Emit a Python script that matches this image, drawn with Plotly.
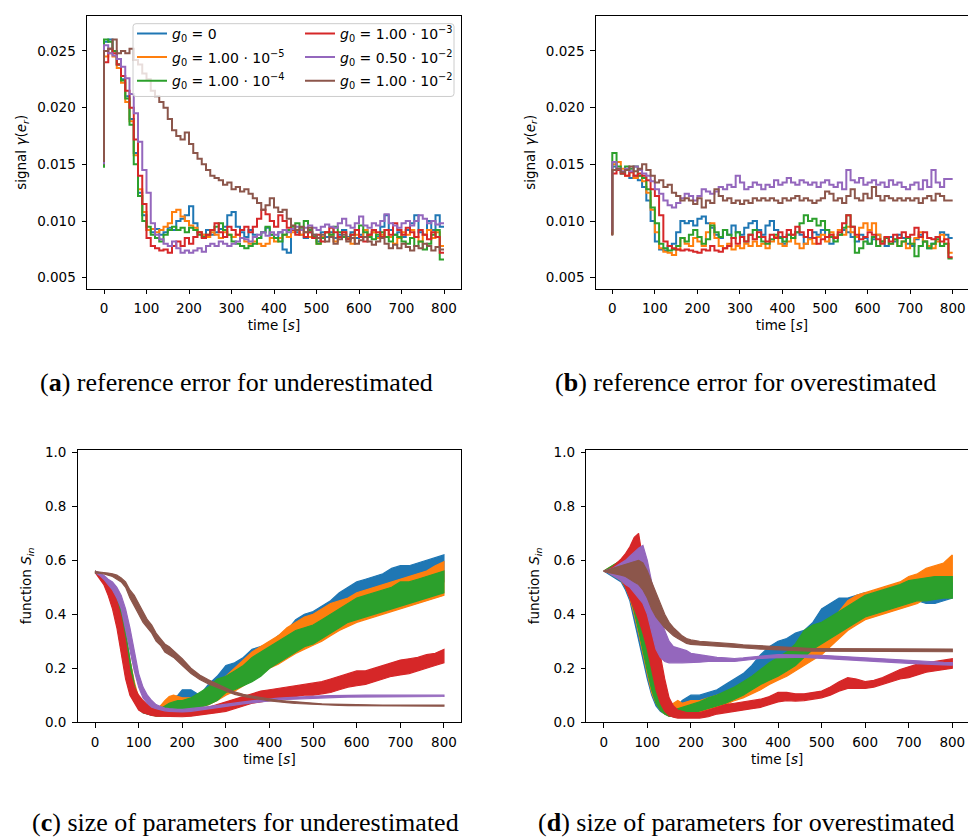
import plotly.graph_objects as go

# ---------------- data ----------------
LABELS = ["<i>g</i><sub>0</sub> = 0",
          "<i>g</i><sub>0</sub> = 1.00 · 10<sup>−5</sup>",
          "<i>g</i><sub>0</sub> = 1.00 · 10<sup>−4</sup>",
          "<i>g</i><sub>0</sub> = 1.00 · 10<sup>−3</sup>",
          "<i>g</i><sub>0</sub> = 0.50 · 10<sup>−2</sup>",
          "<i>g</i><sub>0</sub> = 1.00 · 10<sup>−2</sup>"]
COLORS = ["#1f77b4", "#ff7f0e", "#2ca02c", "#d62728", "#9467bd", "#8c564b"]

T_TOP = list(range(0, 801, 10))
T_BOT = list(range(0, 201, 10)) + list(range(220, 801, 20))

# (a) reference error, underestimated
A_BLUE = [0.0150,
    0.0258, 0.0260, 0.0250, 0.0238, 0.0225, 0.0210, 0.0190, 0.0160, 0.0125, 0.0105,
    0.0092, 0.0090, 0.0093, 0.0088, 0.0090, 0.0094, 0.0092, 0.0100, 0.0102, 0.0105,
    0.0113, 0.0098, 0.0090, 0.0088, 0.0092, 0.0088, 0.0090, 0.0093, 0.0095, 0.0105,
    0.0108, 0.0095, 0.0090, 0.0086, 0.0092, 0.0088, 0.0085, 0.0090, 0.0094, 0.0088,
    0.0085, 0.0090, 0.0075, 0.0072, 0.0092, 0.0090, 0.0088, 0.0085, 0.0090, 0.0088,
    0.0082, 0.0090, 0.0086, 0.0090, 0.0085, 0.0088, 0.0092, 0.0086, 0.0090, 0.0085,
    0.0088, 0.0092, 0.0088, 0.0090, 0.0086, 0.0095, 0.0105, 0.0092, 0.0088, 0.0090,
    0.0086, 0.0092, 0.0098, 0.0105, 0.0090, 0.0088, 0.0100, 0.0092, 0.0105, 0.0095]
A_ORANGE = [0.0150,
    0.0245, 0.0248, 0.0245, 0.0235, 0.0222, 0.0205, 0.0188, 0.0158, 0.0128, 0.0108,
    0.0092, 0.0093, 0.0090, 0.0092, 0.0095, 0.0098, 0.0108, 0.0110, 0.0104, 0.0100,
    0.0096, 0.0094, 0.0090, 0.0088, 0.0086, 0.0090, 0.0088, 0.0085, 0.0090, 0.0088,
    0.0086, 0.0088, 0.0085, 0.0082, 0.0080, 0.0082, 0.0080, 0.0078, 0.0080, 0.0085,
    0.0082, 0.0085, 0.0088, 0.0086, 0.0090, 0.0092, 0.0088, 0.0090, 0.0086, 0.0085,
    0.0080, 0.0086, 0.0090, 0.0088, 0.0082, 0.0086, 0.0090, 0.0085, 0.0080, 0.0088,
    0.0086, 0.0092, 0.0088, 0.0090, 0.0085, 0.0088, 0.0092, 0.0086, 0.0080, 0.0085,
    0.0090, 0.0088, 0.0092, 0.0086, 0.0082, 0.0088, 0.0092, 0.0085, 0.0090, 0.0078]
A_GREEN = [0.0147,
    0.0260, 0.0258, 0.0250, 0.0238, 0.0224, 0.0208, 0.0185, 0.0150, 0.0122, 0.0100,
    0.0095, 0.0088, 0.0085, 0.0082, 0.0088, 0.0092, 0.0095, 0.0092, 0.0094, 0.0090,
    0.0094, 0.0092, 0.0088, 0.0086, 0.0088, 0.0092, 0.0095, 0.0098, 0.0092, 0.0088,
    0.0082, 0.0080, 0.0078, 0.0076, 0.0078, 0.0080, 0.0085, 0.0090, 0.0095, 0.0088,
    0.0085, 0.0082, 0.0088, 0.0092, 0.0095, 0.0098, 0.0094, 0.0100, 0.0092, 0.0086,
    0.0080, 0.0085, 0.0090, 0.0088, 0.0095, 0.0090, 0.0086, 0.0084, 0.0088, 0.0092,
    0.0096, 0.0090, 0.0086, 0.0084, 0.0088, 0.0090, 0.0086, 0.0082, 0.0088, 0.0086,
    0.0082, 0.0080, 0.0085, 0.0078, 0.0082, 0.0075, 0.0080, 0.0088, 0.0092, 0.0066]
A_RED = [0.0150,
    0.0240, 0.0252, 0.0248, 0.0238, 0.0228, 0.0215, 0.0200, 0.0172, 0.0140, 0.0115,
    0.0085, 0.0078, 0.0076, 0.0074, 0.0075, 0.0072, 0.0078, 0.0082, 0.0078, 0.0085,
    0.0080, 0.0086, 0.0090, 0.0085, 0.0088, 0.0092, 0.0098, 0.0090, 0.0086, 0.0095,
    0.0092, 0.0088, 0.0092, 0.0095, 0.0090, 0.0095, 0.0102, 0.0110, 0.0106, 0.0100,
    0.0095, 0.0105, 0.0100, 0.0094, 0.0092, 0.0088, 0.0092, 0.0086, 0.0090, 0.0085,
    0.0088, 0.0082, 0.0090, 0.0094, 0.0090, 0.0086, 0.0090, 0.0084, 0.0088, 0.0092,
    0.0086, 0.0082, 0.0088, 0.0092, 0.0090, 0.0086, 0.0092, 0.0088, 0.0098, 0.0092,
    0.0088, 0.0094, 0.0090, 0.0086, 0.0092, 0.0088, 0.0084, 0.0090, 0.0086, 0.0072]
A_PURPLE = [0.0150,
    0.0255, 0.0248, 0.0246, 0.0243, 0.0236, 0.0226, 0.0212, 0.0195, 0.0170, 0.0145,
    0.0125, 0.0098, 0.0088, 0.0084, 0.0080, 0.0078, 0.0082, 0.0076, 0.0072, 0.0074,
    0.0072, 0.0074, 0.0076, 0.0073, 0.0078, 0.0080, 0.0078, 0.0082, 0.0080, 0.0078,
    0.0080, 0.0082, 0.0085, 0.0084, 0.0082, 0.0086, 0.0088, 0.0090, 0.0087, 0.0090,
    0.0088, 0.0090, 0.0092, 0.0090, 0.0093, 0.0095, 0.0092, 0.0094, 0.0096, 0.0094,
    0.0092, 0.0095, 0.0097, 0.0095, 0.0094, 0.0098, 0.0102, 0.0096, 0.0094, 0.0098,
    0.0104, 0.0096, 0.0094, 0.0098, 0.0096, 0.0100, 0.0106, 0.0098, 0.0096, 0.0094,
    0.0098, 0.0100, 0.0096, 0.0100, 0.0105, 0.0102, 0.0098, 0.0100, 0.0097, 0.0098]
A_BROWN = [0.0152,
    0.0250, 0.0252, 0.0260, 0.0248, 0.0250, 0.0248, 0.0252, 0.0242, 0.0238, 0.0230,
    0.0225, 0.0215, 0.0210, 0.0205, 0.0200, 0.0190, 0.0180, 0.0175, 0.0172, 0.0178,
    0.0168, 0.0160, 0.0155, 0.0150, 0.0145, 0.0140, 0.0138, 0.0136, 0.0132, 0.0134,
    0.0128, 0.0130, 0.0126, 0.0128, 0.0124, 0.0120, 0.0116, 0.0110, 0.0114, 0.0120,
    0.0112, 0.0108, 0.0110, 0.0102, 0.0096, 0.0092, 0.0095, 0.0090, 0.0094, 0.0088,
    0.0085, 0.0088, 0.0082, 0.0086, 0.0080, 0.0084, 0.0088, 0.0082, 0.0085, 0.0080,
    0.0083, 0.0086, 0.0082, 0.0079, 0.0082, 0.0085, 0.0080, 0.0076, 0.0079, 0.0076,
    0.0080, 0.0077, 0.0074, 0.0078, 0.0076, 0.0080, 0.0078, 0.0074, 0.0077, 0.0075]

# (b) reference error, overestimated
B_BLUE = [0.0088,
    0.0148, 0.0145, 0.0142, 0.0145, 0.0138, 0.0140, 0.0136, 0.0130, 0.0118, 0.0100,
    0.0082, 0.0075, 0.0074, 0.0078, 0.0080, 0.0090, 0.0100, 0.0098, 0.0100, 0.0096,
    0.0102, 0.0104, 0.0098, 0.0094, 0.0088, 0.0085, 0.0092, 0.0088, 0.0096, 0.0090,
    0.0088, 0.0094, 0.0098, 0.0100, 0.0092, 0.0088, 0.0096, 0.0100, 0.0092, 0.0086,
    0.0080, 0.0088, 0.0085, 0.0090, 0.0088, 0.0080, 0.0085, 0.0090, 0.0088, 0.0092,
    0.0086, 0.0080, 0.0085, 0.0088, 0.0092, 0.0090, 0.0086, 0.0082, 0.0088, 0.0085,
    0.0080, 0.0084, 0.0088, 0.0082, 0.0078, 0.0086, 0.0082, 0.0088, 0.0085, 0.0080,
    0.0078, 0.0084, 0.0088, 0.0082, 0.0076, 0.0080, 0.0086, 0.0090, 0.0088, 0.0085]
B_ORANGE = [0.0088,
    0.0150, 0.0152, 0.0146, 0.0140, 0.0143, 0.0138, 0.0140, 0.0135, 0.0125, 0.0110,
    0.0090, 0.0076, 0.0073, 0.0072, 0.0070, 0.0075, 0.0085, 0.0080, 0.0078, 0.0085,
    0.0082, 0.0078, 0.0090, 0.0098, 0.0085, 0.0078, 0.0076, 0.0080, 0.0075, 0.0078,
    0.0076, 0.0080, 0.0078, 0.0082, 0.0078, 0.0080, 0.0076, 0.0082, 0.0086, 0.0080,
    0.0078, 0.0082, 0.0088, 0.0080, 0.0076, 0.0080, 0.0084, 0.0080, 0.0086, 0.0088,
    0.0082, 0.0090, 0.0086, 0.0092, 0.0088, 0.0095, 0.0090, 0.0086, 0.0094, 0.0098,
    0.0092, 0.0098, 0.0088, 0.0082, 0.0086, 0.0080, 0.0084, 0.0078, 0.0082, 0.0076,
    0.0080, 0.0085, 0.0090, 0.0082, 0.0078, 0.0076, 0.0082, 0.0088, 0.0080, 0.0072]
B_GREEN = [0.0088,
    0.0160, 0.0148, 0.0142, 0.0148, 0.0146, 0.0148, 0.0140, 0.0138, 0.0128, 0.0112,
    0.0098, 0.0080, 0.0076, 0.0074, 0.0075, 0.0078, 0.0085, 0.0082, 0.0088, 0.0092,
    0.0086, 0.0080, 0.0084, 0.0096, 0.0090, 0.0086, 0.0092, 0.0088, 0.0085, 0.0090,
    0.0086, 0.0082, 0.0088, 0.0092, 0.0086, 0.0082, 0.0080, 0.0084, 0.0088, 0.0085,
    0.0082, 0.0088, 0.0085, 0.0090, 0.0098, 0.0105, 0.0100, 0.0102, 0.0096, 0.0100,
    0.0092, 0.0086, 0.0082, 0.0088, 0.0094, 0.0105, 0.0095, 0.0072, 0.0076, 0.0082,
    0.0080, 0.0086, 0.0078, 0.0082, 0.0085, 0.0080, 0.0084, 0.0078, 0.0082, 0.0085,
    0.0080, 0.0069, 0.0078, 0.0082, 0.0076, 0.0080, 0.0084, 0.0078, 0.0080, 0.0067]
B_RED = [0.0088,
    0.0142, 0.0145, 0.0142, 0.0140, 0.0143, 0.0140, 0.0142, 0.0140, 0.0136, 0.0128,
    0.0122, 0.0105, 0.0082, 0.0078, 0.0076, 0.0075, 0.0074, 0.0075, 0.0074, 0.0073,
    0.0072, 0.0075, 0.0074, 0.0078, 0.0074, 0.0073, 0.0076, 0.0078, 0.0085, 0.0080,
    0.0086, 0.0082, 0.0088, 0.0084, 0.0090, 0.0086, 0.0082, 0.0088, 0.0085, 0.0090,
    0.0086, 0.0092, 0.0088, 0.0095, 0.0090, 0.0086, 0.0092, 0.0085, 0.0080, 0.0084,
    0.0086, 0.0088, 0.0085, 0.0090, 0.0098, 0.0105, 0.0095, 0.0088, 0.0084, 0.0086,
    0.0090, 0.0088, 0.0084, 0.0080, 0.0086, 0.0082, 0.0088, 0.0085, 0.0090, 0.0086,
    0.0088, 0.0094, 0.0086, 0.0090, 0.0085, 0.0084, 0.0086, 0.0082, 0.0084, 0.0068]
B_PURPLE = [0.0090,
    0.0152, 0.0146, 0.0144, 0.0146, 0.0144, 0.0148, 0.0145, 0.0142, 0.0140, 0.0135,
    0.0128, 0.0124, 0.0118, 0.0114, 0.0112, 0.0116, 0.0120, 0.0124, 0.0122, 0.0118,
    0.0122, 0.0128, 0.0126, 0.0124, 0.0126, 0.0130, 0.0128, 0.0132, 0.0130, 0.0140,
    0.0134, 0.0128, 0.0130, 0.0134, 0.0132, 0.0128, 0.0132, 0.0130, 0.0136, 0.0132,
    0.0134, 0.0138, 0.0134, 0.0132, 0.0136, 0.0134, 0.0132, 0.0134, 0.0130, 0.0134,
    0.0136, 0.0132, 0.0130, 0.0134, 0.0128, 0.0145, 0.0136, 0.0134, 0.0138, 0.0132,
    0.0134, 0.0136, 0.0132, 0.0134, 0.0130, 0.0136, 0.0132, 0.0134, 0.0130, 0.0128,
    0.0132, 0.0134, 0.0128, 0.0136, 0.0130, 0.0145, 0.0134, 0.0130, 0.0137, 0.0137]
B_BROWN = [0.0087,
    0.0145, 0.0146, 0.0143, 0.0145, 0.0148, 0.0144, 0.0146, 0.0150, 0.0145, 0.0140,
    0.0134, 0.0136, 0.0130, 0.0132, 0.0125, 0.0122, 0.0118, 0.0120, 0.0118, 0.0115,
    0.0120, 0.0112, 0.0118, 0.0116, 0.0128, 0.0122, 0.0118, 0.0120, 0.0116, 0.0118,
    0.0115, 0.0118, 0.0116, 0.0120, 0.0118, 0.0120, 0.0118, 0.0120, 0.0118, 0.0116,
    0.0120, 0.0118, 0.0120, 0.0122, 0.0118, 0.0120, 0.0118, 0.0116, 0.0118, 0.0120,
    0.0126, 0.0124, 0.0118, 0.0120, 0.0116, 0.0122, 0.0128, 0.0120, 0.0118, 0.0124,
    0.0120, 0.0130, 0.0122, 0.0118, 0.0122, 0.0120, 0.0118, 0.0120, 0.0118, 0.0120,
    0.0118, 0.0120, 0.0116, 0.0120, 0.0122, 0.0118, 0.0124, 0.0122, 0.0118, 0.0118]

# (c) size of parameters, underestimated: lower / upper envelope of the oscillating signal
C_BLUE_LO = [0.555, 0.54, 0.52, 0.49, 0.45, 0.40, 0.32, 0.22, 0.14, 0.08, 0.05,
    0.035, 0.03, 0.025, 0.025, 0.03, 0.04, 0.05, 0.06, 0.065, 0.07,
    0.06, 0.07, 0.08, 0.10, 0.12, 0.14, 0.16, 0.18, 0.20, 0.22,
    0.24, 0.26, 0.28, 0.30, 0.32, 0.34, 0.36, 0.38, 0.40, 0.41,
    0.42, 0.43, 0.44, 0.45, 0.46, 0.47, 0.48, 0.49, 0.50, 0.52]
C_BLUE_HI = [0.56, 0.55, 0.54, 0.52, 0.49, 0.46, 0.41, 0.33, 0.23, 0.14, 0.085,
    0.06, 0.05, 0.045, 0.05, 0.06, 0.07, 0.08, 0.09, 0.10, 0.12,
    0.12, 0.10, 0.14, 0.17, 0.21, 0.22, 0.24, 0.27, 0.28, 0.29,
    0.32, 0.34, 0.38, 0.40, 0.41, 0.43, 0.45, 0.48, 0.50, 0.52,
    0.53, 0.54, 0.55, 0.57, 0.58, 0.58, 0.59, 0.60, 0.61, 0.62]
C_ORANGE_LO = [0.555, 0.54, 0.52, 0.49, 0.45, 0.40, 0.32, 0.23, 0.15, 0.09, 0.055,
    0.04, 0.032, 0.028, 0.025, 0.025, 0.03, 0.04, 0.045, 0.045, 0.045,
    0.05, 0.055, 0.065, 0.08, 0.10, 0.115, 0.135, 0.155, 0.175, 0.20,
    0.215, 0.235, 0.255, 0.27, 0.285, 0.30, 0.32, 0.34, 0.355, 0.37,
    0.38, 0.39, 0.40, 0.41, 0.42, 0.43, 0.44, 0.45, 0.46, 0.47]
C_ORANGE_HI = [0.56, 0.55, 0.54, 0.52, 0.49, 0.46, 0.41, 0.33, 0.23, 0.15, 0.09,
    0.065, 0.055, 0.05, 0.05, 0.06, 0.08, 0.095, 0.10, 0.095, 0.09,
    0.09, 0.10, 0.12, 0.15, 0.17, 0.20, 0.23, 0.26, 0.28, 0.30,
    0.32, 0.35, 0.37, 0.39, 0.40, 0.42, 0.44, 0.45, 0.46, 0.48,
    0.49, 0.50, 0.51, 0.52, 0.53, 0.54, 0.55, 0.56, 0.58, 0.595]
C_GREEN_LO = [0.555, 0.54, 0.52, 0.49, 0.45, 0.40, 0.32, 0.22, 0.14, 0.08, 0.05,
    0.035, 0.03, 0.025, 0.022, 0.022, 0.025, 0.03, 0.035, 0.038, 0.04,
    0.045, 0.055, 0.065, 0.08, 0.11, 0.12, 0.135, 0.15, 0.17, 0.20,
    0.22, 0.24, 0.26, 0.28, 0.29, 0.31, 0.33, 0.35, 0.37, 0.38,
    0.39, 0.40, 0.41, 0.42, 0.43, 0.44, 0.45, 0.46, 0.47, 0.48]
C_GREEN_HI = [0.56, 0.55, 0.54, 0.52, 0.49, 0.46, 0.41, 0.33, 0.23, 0.14, 0.08,
    0.06, 0.05, 0.045, 0.045, 0.05, 0.06, 0.07, 0.075, 0.08, 0.08,
    0.09, 0.11, 0.13, 0.16, 0.17, 0.19, 0.21, 0.24, 0.26, 0.28,
    0.30, 0.32, 0.34, 0.35, 0.36, 0.38, 0.40, 0.42, 0.44, 0.46,
    0.47, 0.48, 0.49, 0.50, 0.52, 0.52, 0.53, 0.54, 0.55, 0.56]
C_RED_LO = [0.555, 0.535, 0.51, 0.47, 0.42, 0.35, 0.25, 0.16, 0.10, 0.07, 0.045,
    0.035, 0.03, 0.025, 0.022, 0.02, 0.02, 0.02, 0.02, 0.02, 0.02,
    0.022, 0.025, 0.03, 0.035, 0.04, 0.05, 0.06, 0.07, 0.075, 0.08,
    0.085, 0.09, 0.095, 0.10, 0.10, 0.105, 0.11, 0.12, 0.13, 0.135,
    0.14, 0.15, 0.16, 0.17, 0.175, 0.18, 0.19, 0.20, 0.21, 0.22]
C_RED_HI = [0.56, 0.55, 0.54, 0.52, 0.49, 0.45, 0.39, 0.30, 0.19, 0.13, 0.10,
    0.08, 0.065, 0.055, 0.05, 0.045, 0.04, 0.04, 0.04, 0.038, 0.04,
    0.045, 0.05, 0.055, 0.065, 0.075, 0.085, 0.095, 0.105, 0.115, 0.12,
    0.125, 0.13, 0.135, 0.14, 0.145, 0.15, 0.16, 0.17, 0.18, 0.19,
    0.19, 0.20, 0.21, 0.22, 0.23, 0.235, 0.24, 0.25, 0.255, 0.27]
C_PURPLE_LO = [0.555, 0.545, 0.53, 0.51, 0.49, 0.46, 0.42, 0.35, 0.27, 0.19, 0.13,
    0.09, 0.07, 0.055, 0.05, 0.045, 0.042, 0.04, 0.038, 0.038, 0.038,
    0.04, 0.044, 0.048, 0.053, 0.058, 0.063, 0.068, 0.072, 0.076, 0.079,
    0.082, 0.084, 0.086, 0.088, 0.089, 0.09, 0.091, 0.092, 0.093, 0.094,
    0.094, 0.095, 0.095, 0.095, 0.095, 0.095, 0.095, 0.095, 0.095, 0.095]
C_PURPLE_HI = [0.56, 0.555, 0.545, 0.53, 0.52, 0.50, 0.47, 0.42, 0.35, 0.26, 0.18,
    0.13, 0.10, 0.08, 0.065, 0.058, 0.052, 0.05, 0.048, 0.047, 0.047,
    0.05, 0.054, 0.058, 0.062, 0.067, 0.071, 0.075, 0.079, 0.083, 0.086,
    0.089, 0.091, 0.093, 0.095, 0.096, 0.097, 0.098, 0.099, 0.10, 0.10,
    0.10, 0.10, 0.10, 0.10, 0.10, 0.10, 0.10, 0.10, 0.10, 0.10]
C_BROWN_LO = [0.552, 0.552, 0.55, 0.545, 0.54, 0.53, 0.52, 0.50, 0.46, 0.43, 0.40,
    0.37, 0.35, 0.33, 0.30, 0.285, 0.26, 0.25, 0.24, 0.225, 0.21,
    0.18, 0.158, 0.142, 0.128, 0.115, 0.103, 0.095, 0.089, 0.084, 0.079,
    0.075, 0.072, 0.069, 0.067, 0.065, 0.064, 0.063, 0.062, 0.061, 0.060,
    0.060, 0.059, 0.059, 0.059, 0.059, 0.059, 0.059, 0.059, 0.059, 0.059]
C_BROWN_HI = [0.558, 0.557, 0.556, 0.553, 0.55, 0.545, 0.535, 0.52, 0.49, 0.47, 0.44,
    0.41, 0.38, 0.36, 0.33, 0.31, 0.29, 0.28, 0.265, 0.25, 0.235,
    0.20, 0.175, 0.157, 0.14, 0.126, 0.112, 0.103, 0.097, 0.091, 0.086,
    0.081, 0.078, 0.075, 0.072, 0.070, 0.068, 0.067, 0.066, 0.065, 0.064,
    0.064, 0.063, 0.063, 0.063, 0.063, 0.063, 0.063, 0.063, 0.063, 0.063]

# (d) size of parameters, overestimated
D_BLUE_LO = [0.56, 0.55, 0.54, 0.53, 0.52, 0.49, 0.45, 0.38, 0.31, 0.23, 0.16,
    0.10, 0.06, 0.04, 0.03, 0.022, 0.02, 0.022, 0.03, 0.04, 0.05,
    0.06, 0.07, 0.08, 0.095, 0.11, 0.13, 0.15, 0.18, 0.21, 0.23,
    0.25, 0.27, 0.29, 0.32, 0.34, 0.36, 0.38, 0.40, 0.40, 0.41,
    0.42, 0.43, 0.44, 0.44, 0.45, 0.45, 0.44, 0.44, 0.45, 0.46]
D_BLUE_HI = [0.56, 0.565, 0.575, 0.585, 0.595, 0.60, 0.61, 0.58, 0.50, 0.41, 0.32,
    0.24, 0.17, 0.11, 0.07, 0.05, 0.05, 0.06, 0.08, 0.09, 0.10,
    0.10, 0.11, 0.12, 0.14, 0.16, 0.18, 0.21, 0.25, 0.28, 0.30,
    0.31, 0.33, 0.34, 0.37, 0.42, 0.44, 0.46, 0.46, 0.47, 0.48,
    0.48, 0.49, 0.50, 0.51, 0.52, 0.52, 0.51, 0.50, 0.51, 0.52]
D_ORANGE_LO = [0.56, 0.555, 0.545, 0.535, 0.525, 0.50, 0.46, 0.40, 0.33, 0.26, 0.18,
    0.11, 0.07, 0.045, 0.03, 0.022, 0.02, 0.02, 0.022, 0.025, 0.03,
    0.035, 0.045, 0.055, 0.065, 0.08, 0.09, 0.105, 0.12, 0.14, 0.155,
    0.17, 0.19, 0.21, 0.23, 0.25, 0.28, 0.31, 0.34, 0.36, 0.38,
    0.39, 0.40, 0.41, 0.42, 0.43, 0.44, 0.46, 0.48, 0.50, 0.52]
D_ORANGE_HI = [0.56, 0.57, 0.58, 0.59, 0.60, 0.61, 0.62, 0.60, 0.52, 0.44, 0.36,
    0.27, 0.19, 0.12, 0.08, 0.06, 0.07, 0.08, 0.07, 0.075, 0.08,
    0.08, 0.09, 0.10, 0.11, 0.12, 0.135, 0.15, 0.17, 0.19, 0.21,
    0.23, 0.25, 0.28, 0.30, 0.33, 0.37, 0.41, 0.45, 0.47, 0.48,
    0.49, 0.50, 0.51, 0.52, 0.54, 0.55, 0.57, 0.58, 0.59, 0.62]
D_GREEN_LO = [0.56, 0.555, 0.55, 0.54, 0.53, 0.50, 0.47, 0.41, 0.34, 0.27, 0.19,
    0.12, 0.07, 0.045, 0.03, 0.022, 0.02, 0.02, 0.022, 0.025, 0.03,
    0.04, 0.05, 0.06, 0.07, 0.085, 0.10, 0.12, 0.14, 0.155, 0.17,
    0.19, 0.21, 0.24, 0.27, 0.29, 0.31, 0.33, 0.35, 0.37, 0.39,
    0.40, 0.41, 0.42, 0.43, 0.44, 0.45, 0.45, 0.455, 0.46, 0.46]
D_GREEN_HI = [0.56, 0.57, 0.58, 0.59, 0.60, 0.615, 0.625, 0.60, 0.52, 0.44, 0.36,
    0.27, 0.19, 0.12, 0.08, 0.05, 0.045, 0.05, 0.055, 0.06, 0.065,
    0.075, 0.09, 0.10, 0.115, 0.13, 0.15, 0.17, 0.195, 0.22, 0.24,
    0.26, 0.29, 0.34, 0.36, 0.37, 0.39, 0.41, 0.43, 0.45, 0.47,
    0.48, 0.49, 0.50, 0.51, 0.525, 0.53, 0.535, 0.54, 0.54, 0.54]
D_RED_LO = [0.56, 0.555, 0.55, 0.54, 0.53, 0.50, 0.46, 0.42, 0.38, 0.33, 0.27,
    0.20, 0.12, 0.07, 0.04, 0.025, 0.018, 0.015, 0.015, 0.015, 0.015,
    0.015, 0.02, 0.03, 0.035, 0.04, 0.045, 0.05, 0.055, 0.065, 0.075,
    0.08, 0.078, 0.08, 0.085, 0.09, 0.10, 0.115, 0.125, 0.125, 0.125,
    0.13, 0.14, 0.15, 0.16, 0.165, 0.175, 0.185, 0.19, 0.195, 0.20]
D_RED_HI = [0.56, 0.565, 0.575, 0.59, 0.605, 0.625, 0.65, 0.685, 0.70, 0.60, 0.52,
    0.42, 0.33, 0.25, 0.16, 0.09, 0.06, 0.045, 0.04, 0.035, 0.035,
    0.035, 0.045, 0.055, 0.065, 0.07, 0.075, 0.08, 0.085, 0.095, 0.11,
    0.11, 0.105, 0.105, 0.11, 0.115, 0.13, 0.15, 0.165, 0.16, 0.15,
    0.155, 0.165, 0.18, 0.195, 0.205, 0.215, 0.22, 0.225, 0.23, 0.235]
D_PURPLE_LO = [0.56, 0.555, 0.545, 0.535, 0.525, 0.51, 0.50, 0.48, 0.46, 0.44, 0.40,
    0.33, 0.27, 0.24, 0.225, 0.22, 0.22, 0.22, 0.22, 0.22, 0.22,
    0.222, 0.225, 0.225, 0.225, 0.225, 0.228, 0.232, 0.236, 0.238, 0.24,
    0.24, 0.24, 0.24, 0.24, 0.238, 0.236, 0.234, 0.232, 0.23, 0.228,
    0.226, 0.224, 0.222, 0.22, 0.218, 0.216, 0.215, 0.213, 0.212, 0.211]
D_PURPLE_HI = [0.56, 0.565, 0.57, 0.58, 0.59, 0.60, 0.615, 0.63, 0.645, 0.655, 0.60,
    0.52, 0.46, 0.38, 0.34, 0.30, 0.28, 0.275, 0.27, 0.265, 0.255,
    0.25, 0.245, 0.24, 0.238, 0.236, 0.238, 0.242, 0.246, 0.248, 0.25,
    0.25, 0.25, 0.25, 0.25, 0.248, 0.246, 0.244, 0.242, 0.24, 0.238,
    0.236, 0.234, 0.232, 0.23, 0.228, 0.226, 0.225, 0.223, 0.222, 0.221]
D_BROWN_LO = [0.56, 0.555, 0.552, 0.548, 0.545, 0.54, 0.53, 0.52, 0.51, 0.49, 0.46,
    0.42, 0.39, 0.37, 0.35, 0.335, 0.32, 0.31, 0.30, 0.292, 0.288,
    0.285, 0.283, 0.281, 0.279, 0.277, 0.275, 0.273, 0.271, 0.269, 0.267,
    0.266, 0.265, 0.264, 0.263, 0.263, 0.263, 0.263, 0.262, 0.262, 0.262,
    0.262, 0.262, 0.261, 0.261, 0.261, 0.261, 0.261, 0.261, 0.261, 0.261]
D_BROWN_HI = [0.56, 0.565, 0.57, 0.575, 0.58, 0.585, 0.59, 0.595, 0.60, 0.59, 0.56,
    0.52, 0.48, 0.44, 0.40, 0.37, 0.35, 0.335, 0.32, 0.31, 0.305,
    0.30, 0.298, 0.295, 0.292, 0.29, 0.287, 0.285, 0.283, 0.281, 0.279,
    0.277, 0.275, 0.274, 0.273, 0.273, 0.273, 0.273, 0.272, 0.272, 0.272,
    0.272, 0.271, 0.271, 0.271, 0.271, 0.271, 0.271, 0.271, 0.271, 0.271]

TOP_A = [A_BLUE, A_ORANGE, A_GREEN, A_RED, A_PURPLE, A_BROWN]
TOP_B = [B_BLUE, B_ORANGE, B_GREEN, B_RED, B_PURPLE, B_BROWN]
BOT_C = [(C_BLUE_LO, C_BLUE_HI), (C_ORANGE_LO, C_ORANGE_HI), (C_GREEN_LO, C_GREEN_HI),
         (C_RED_LO, C_RED_HI), (C_PURPLE_LO, C_PURPLE_HI), (C_BROWN_LO, C_BROWN_HI)]
BOT_D = [(D_BLUE_LO, D_BLUE_HI), (D_ORANGE_LO, D_ORANGE_HI), (D_GREEN_LO, D_GREEN_HI),
         (D_RED_LO, D_RED_HI), (D_PURPLE_LO, D_PURPLE_HI), (D_BROWN_LO, D_BROWN_HI)]

CAPTIONS = ["(<b>a</b>) reference error for underestimated",
            "(<b>b</b>) reference error for overestimated",
            "(<b>c</b>) size of parameters for underestimated",
            "(<b>d</b>) size of parameters for overestimated"]

# ---------------- figure ----------------
W, H = 968, 838
fig = go.Figure()

for i, ys in enumerate(TOP_A):
    fig.add_trace(go.Scatter(x=T_TOP, y=ys, mode="lines", line=dict(color=COLORS[i], width=2, shape="vh"),
                             name=LABELS[i], legendgroup=f"g{i}", showlegend=True,
                             legend="legend" if i < 3 else "legend2", xaxis="x", yaxis="y"))
for i, ys in enumerate(TOP_B):
    fig.add_trace(go.Scatter(x=T_TOP, y=ys, mode="lines", line=dict(color=COLORS[i], width=2, shape="vh"),
                             name=LABELS[i], legendgroup=f"g{i}", showlegend=False, xaxis="x2", yaxis="y2"))
for axn, data in (("3", BOT_C), ("4", BOT_D)):
    for i, (lo, hi) in enumerate(data):
        fig.add_trace(go.Scatter(x=T_BOT + T_BOT[::-1], y=list(hi) + list(lo)[::-1], mode="lines",
                                 fill="toself", fillcolor=COLORS[i],
                                 line=dict(color=COLORS[i], width=1.2),
                                 name=LABELS[i], legendgroup=f"g{i}", showlegend=False,
                                 xaxis="x" + axn, yaxis="y" + axn))

def px(x):
    return x / W

def py(y):
    return 1 - y / H

FONT = dict(family="DejaVu Sans", size=13.5, color="black")
LFONT = dict(family="DejaVu Sans", size=14, color="black")
axis_common = dict(showgrid=False, zeroline=False, showline=True, linecolor="black", linewidth=1,
                   ticks="outside", ticklen=4.5, tickwidth=1, tickcolor="black", tickfont=FONT,
                   ticklabelstandoff=3)

xt = dict(tickvals=list(range(0, 801, 100)), title=dict(text="time [<i>s</i>]", font=FONT, standoff=5))
ytop = dict(range=[0.00405, 0.02807], tickvals=[0.005, 0.010, 0.015, 0.020, 0.025], tickformat=".3f",
            title=dict(text="signal <i>γ</i>(<i>e<sub>r</sub></i>)", font=FONT, standoff=7))
ybot = dict(range=[0, 1.01], tickvals=[0, 0.2, 0.4, 0.6, 0.8, 1.0], tickformat=".1f",
            title=dict(text="function <i>S<sub>in</sub></i>", font=FONT, standoff=10))

# rounded legend frame (paper coordinates)
lx0, lx1, ly0, ly1, r = 133, 454, 18, 92, 3
frame = (f"M {px(lx0 + r)},{py(ly0)} L {px(lx1 - r)},{py(ly0)} Q {px(lx1)},{py(ly0)} {px(lx1)},{py(ly0 + r)} "
         f"L {px(lx1)},{py(ly1 - r)} Q {px(lx1)},{py(ly1)} {px(lx1 - r)},{py(ly1)} "
         f"L {px(lx0 + r)},{py(ly1)} Q {px(lx0)},{py(ly1)} {px(lx0)},{py(ly1 - r)} "
         f"L {px(lx0)},{py(ly0 + r)} Q {px(lx0)},{py(ly0)} {px(lx0 + r)},{py(ly0)} Z")

fig.update_layout(
    width=W, height=H, margin=dict(l=0, r=0, t=0, b=0),
    paper_bgcolor="white", plot_bgcolor="white", font=FONT,
    xaxis=dict(domain=[px(87), px(461)], range=[-40, 840], anchor="y", mirror=True, **xt, **axis_common),
    yaxis=dict(domain=[py(287.3), py(10.3)], anchor="x", mirror=True, **ytop, **axis_common),
    xaxis2=dict(domain=[px(595.7), 1.0], range=[-39, 836], anchor="y2", mirror=True, **xt, **axis_common),
    yaxis2=dict(domain=[py(287.3), py(10.3)], anchor="x2", mirror=False, **ytop, **axis_common),
    xaxis3=dict(domain=[px(77.6), px(461.4)], range=[-40, 840], anchor="y3", mirror=True, **xt, **axis_common),
    yaxis3=dict(domain=[py(728.3), py(451.3)], anchor="x3", mirror=True, **ybot, **axis_common),
    xaxis4=dict(domain=[px(586.3), 1.0], range=[-40, 836], anchor="y4", mirror=True, **xt, **axis_common),
    yaxis4=dict(domain=[py(728.3), py(451.3)], anchor="x4", mirror=False, **ybot, **axis_common),
    legend=dict(x=px(132), y=py(12), xanchor="left", yanchor="top", bgcolor="rgba(0,0,0,0)",
                borderwidth=0, font=LFONT, tracegroupgap=2.5, itemwidth=30),
    legend2=dict(x=px(300), y=py(12), xanchor="left", yanchor="top", bgcolor="rgba(0,0,0,0)",
                 borderwidth=0, font=LFONT, tracegroupgap=2.5, itemwidth=30),
    shapes=[dict(type="path", xref="paper", yref="paper", path=frame,
                 fillcolor="rgba(255,255,255,0.8)", line=dict(color="#cccccc", width=1), layer="above")],
)

cap_pos = [(236, 383), (745, 383), (245, 830), (746, 830)]
for text, (cx, cy) in zip(CAPTIONS, cap_pos):
    fig.add_annotation(x=px(cx), y=py(cy), xref="paper", yref="paper", text=text, showarrow=False,
                       xanchor="center", yanchor="middle",
                       font=dict(family="Liberation Serif", size=26, color="black"))

fig.write_html("out.html")
